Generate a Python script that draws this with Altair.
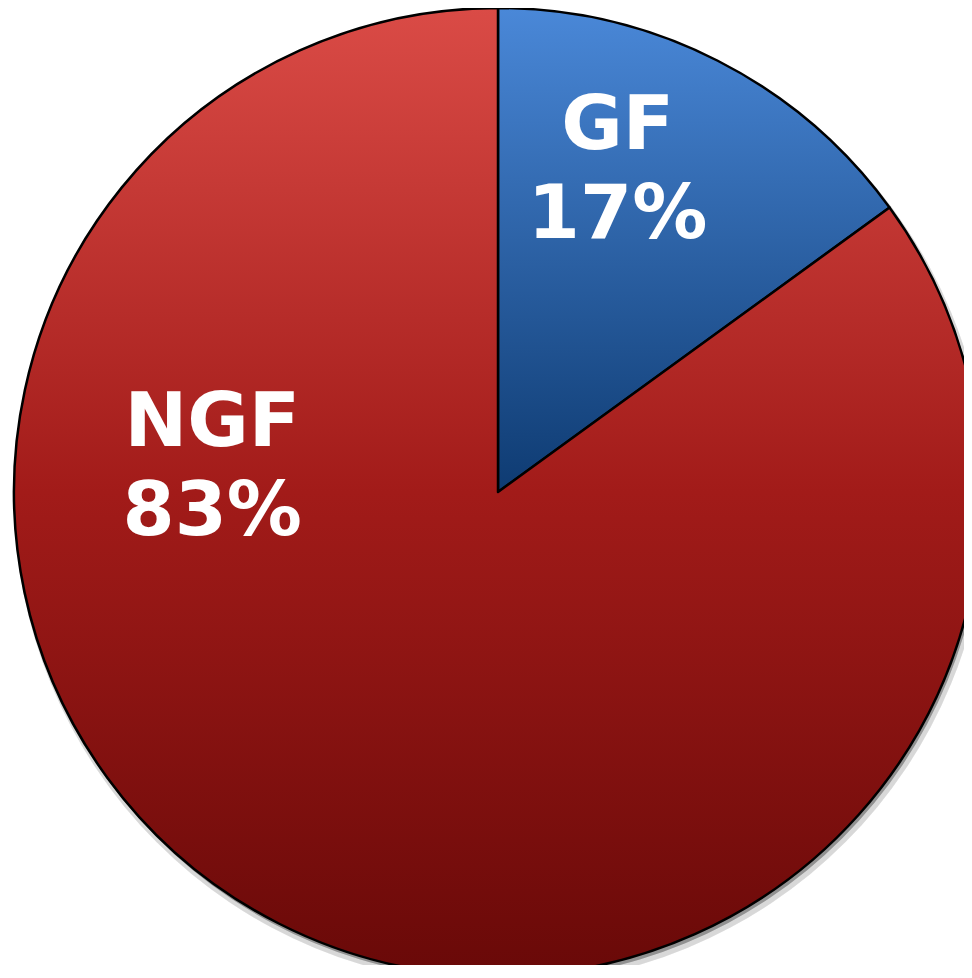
import altair as alt
import pandas as pd

categories = ["GF", "NGF"]
shares = [15, 85]          # slice sizes as drawn
pct_labels = ["17%", "83%"]
order_idx = [0, 1]

df = pd.DataFrame({"cat": categories, "value": shares, "pct": pct_labels, "idx": order_idx})

CX, CY, R = 490, 484, 484

red_grad = alt.Gradient(
    gradient="linear", x1=0, y1=0, x2=0, y2=1,
    stops=[alt.GradientStop(offset=0, color="#da4b46"),
           alt.GradientStop(offset=0.5, color="#a21b19"),
           alt.GradientStop(offset=1, color="#690908")])
blue_grad = alt.Gradient(
    gradient="linear", x1=0, y1=0, x2=0, y2=1,
    stops=[alt.GradientStop(offset=0, color="#4a88d8"),
           alt.GradientStop(offset=1, color="#0e3b72")])

base = alt.Chart(df)

shadow1 = base.mark_arc(theta=0, theta2=6.2832, radius=R + 3, fill="#000000", opacity=0.08).encode(
    x=alt.value(CX + 3), y=alt.value(CY + 6))
shadow2 = base.mark_arc(theta=0, theta2=6.2832, radius=R, fill="#000000", opacity=0.18).encode(
    x=alt.value(CX + 2), y=alt.value(CY + 4))

pie = base.mark_arc(radius=R, stroke="#000000", strokeWidth=2.5, strokeJoin="round").encode(
    theta=alt.Theta("value:Q", stack=True, scale=alt.Scale(domain=[0, 100])),
    order=alt.Order("idx:Q"),
    fill=alt.condition("datum.cat == 'GF'", alt.value(blue_grad), alt.value(red_grad)),
    x=alt.value(CX), y=alt.value(CY),
)

stacked = base.transform_stack(
    stack="value", groupby=[], as_=["v0", "v1"], sort=[alt.SortField("idx")]
).transform_calculate(
    mid="(datum.v0 + datum.v1) / 2",
    label="datum.cat + '\\n' + datum.pct",
)

def label_layer(cat, radius, dx, dy):
    return stacked.transform_filter(alt.datum.cat == cat).mark_text(
        radius=radius, dx=dx, dy=dy, lineBreak="\n", lineHeight=89,
        font="DejaVu Sans", fontWeight="bold", fontSize=75, color="#ffffff",
        align="center", baseline="middle",
    ).encode(
        theta=alt.Theta("mid:Q", stack=None, scale=alt.Scale(domain=[0, 100])),
        text="label:N",
        x=alt.value(CX), y=alt.value(CY),
    )

gf_text = label_layer("GF", 345, -37, -59)
ngf_text = label_layer("NGF", 288, -155, -326)

chart = alt.layer(shadow1, shadow2, pie, gf_text, ngf_text).resolve_scale(
    theta="independent"
).properties(
    width=956, height=957, autosize="none", padding=0
).configure_view(stroke=None)

chart.save("out.html", embed_options={"renderer": "svg", "actions": False})
